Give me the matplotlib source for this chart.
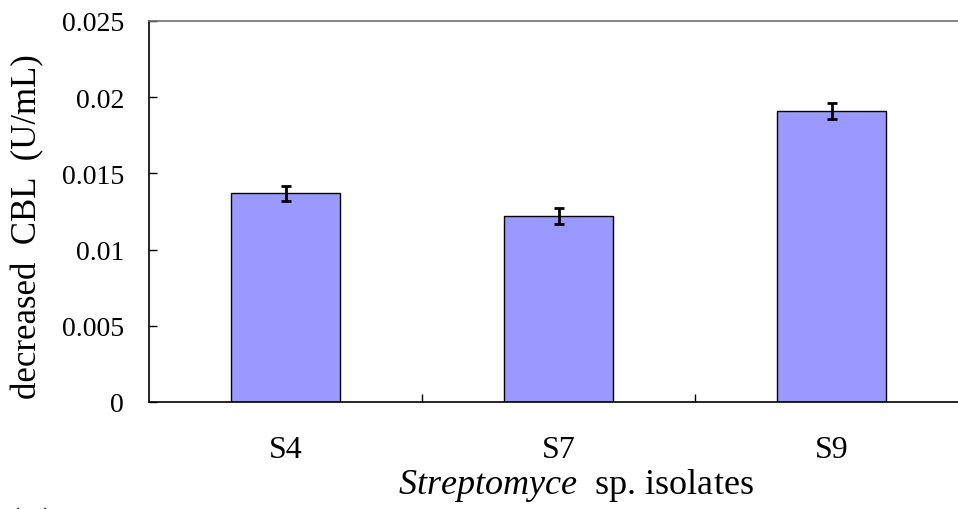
import numpy as np
import matplotlib
matplotlib.use("Agg")
import matplotlib.pyplot as plt

# Data
isolates = ["S4", "S7", "S9"]
decreased_cbl = [0.0137, 0.0122, 0.0191]
errors = [0.0005, 0.0005, 0.0005]
y_ticks = [0, 0.005, 0.01, 0.015, 0.02, 0.025]
y_tick_labels = ["0", "0.005", "0.01", "0.015", "0.02", "0.025"]

plt.rcParams['font.family'] = ['Liberation Serif', 'DejaVu Serif']
plt.rcParams['mathtext.fontset'] = 'custom'
plt.rcParams['mathtext.rm'] = 'Liberation Serif'
plt.rcParams['mathtext.it'] = 'Liberation Serif:italic'

W, H = 958, 510
fig = plt.figure(figsize=(W / 100, H / 100), dpi=100)
# plot area goes slightly past the right edge, like the cropped original
ax = fig.add_axes([149 / W, 1 - 403 / H, (968 - 149) / W, 381 / H])

x = np.arange(len(isolates))
ax.bar(x, decreased_cbl, width=0.4, color="#9999FF", edgecolor="black", linewidth=1.0)
ax.errorbar(x, decreased_cbl, yerr=errors, fmt="none", ecolor="black",
            elinewidth=2, capsize=3.8, capthick=2)

ax.set_xlim(-0.5, len(isolates) - 0.5)
ax.set_ylim(0, 0.025)

ax.set_yticks(y_ticks)
ax.set_yticklabels(y_tick_labels)
ax.tick_params(axis="y", direction="in", length=6, width=1, pad=18, labelsize=20)

ax.set_xticks(x)
ax.set_xticklabels(isolates)
ax.set_xticks(x[:-1] + 0.5, minor=True)
ax.tick_params(axis="x", which="major", length=0, pad=24, labelsize=23)
ax.tick_params(axis="x", which="minor", direction="in", length=6, width=1)

for side in ["left", "bottom"]:
    ax.spines[side].set_color("black")
    ax.spines[side].set_linewidth(1.2)
ax.spines["top"].set_color("#707070")
ax.spines["top"].set_linewidth(1.2)
ax.spines["right"].set_visible(False)

ax.set_ylabel("decreased  CBL  (U/mL)", fontsize=25)
ax.yaxis.set_label_coords(-0.128, 0.462)
fig.text(576 / W, 1 - 486 / H, r"$\it{Streptomyce}$  sp. isolates",
         ha="center", va="center", fontsize=26)

# panel letter, cut off at the bottom edge as in the original
fig.text(8 / W, 1 - 507 / H, "(D)", ha="left", va="top", fontsize=24)

plt.savefig("out.png", dpi=100)
